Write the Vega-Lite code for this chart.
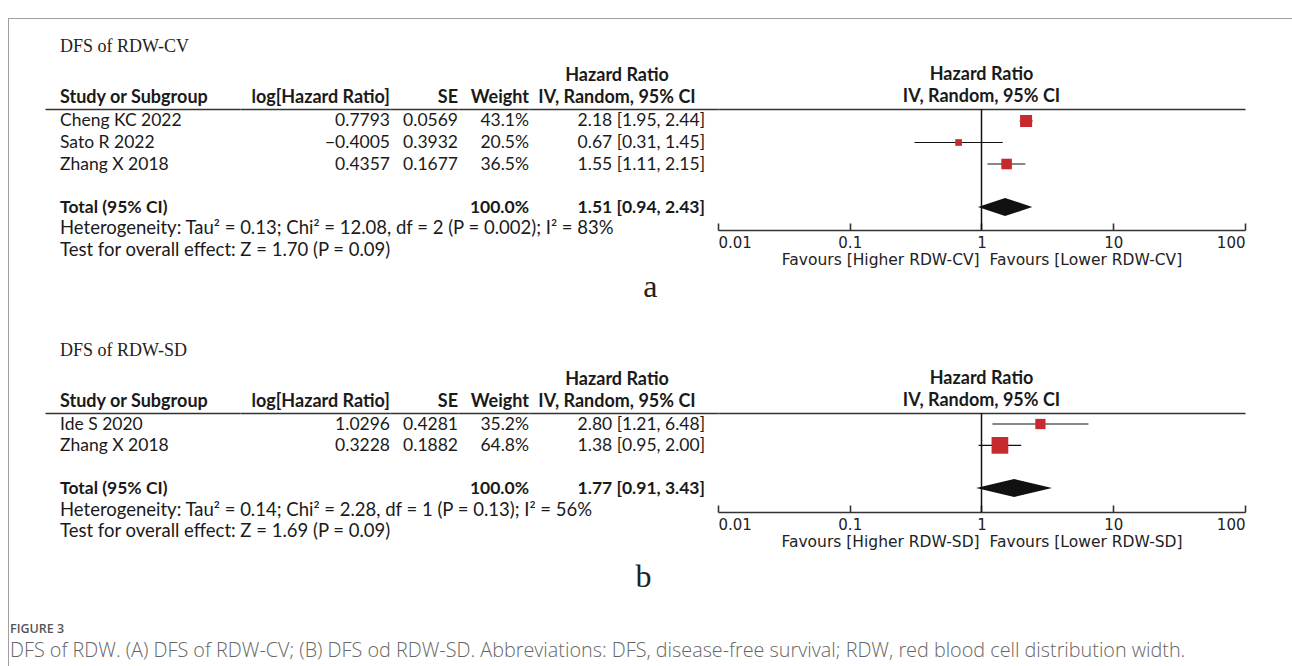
{
  "$schema": "https://vega.github.io/schema/vega-lite/v6.json",
  "padding": {"left": 8, "top": 9, "right": 0, "bottom": 0},
  "background": "white",
  "config": {
    "view": {"stroke": null},
    "text": {"font": "Lato", "fontSize": 17.5, "color": "#1a1a1a", "baseline": "middle"},
    "title": {"font": "Lato", "fontSize": 18, "fontWeight": "bold", "color": "#1a1a1a", "offset": 2, "lineHeight": 22},
    "axis": {"grid": false}
  },
  "datasets": {
    "rowsA": [
      {"label": "Cheng KC 2022", "loghr": 0.7793, "se": 0.0569, "weight": 0.431, "hr": 2.18, "lo": 1.95, "hi": 2.44},
      {"label": "Sato R 2022", "loghr": -0.4005, "se": 0.3932, "weight": 0.205, "hr": 0.67, "lo": 0.31, "hi": 1.45},
      {"label": "Zhang X 2018", "loghr": 0.4357, "se": 0.1677, "weight": 0.365, "hr": 1.55, "lo": 1.11, "hi": 2.15},
      {"label": "Total (95% CI)", "loghr": null, "se": null, "weight": 1.0, "hr": 1.51, "lo": 0.94, "hi": 2.43}
    ],
    "notesA": [
      {"label": "Heterogeneity", "text": "Heterogeneity: Tau² = 0.13; Chi² = 12.08, df = 2 (P = 0.002); I² = 83%"},
      {"label": "Overall effect", "text": "Test for overall effect: Z = 1.70 (P = 0.09)"}
    ],
    "rowsB": [
      {"label": "Ide S 2020", "loghr": 1.0296, "se": 0.4281, "weight": 0.352, "hr": 2.80, "lo": 1.21, "hi": 6.48},
      {"label": "Zhang X 2018", "loghr": 0.3228, "se": 0.1882, "weight": 0.648, "hr": 1.38, "lo": 0.95, "hi": 2.00},
      {"label": "Total (95% CI)", "loghr": null, "se": null, "weight": 1.0, "hr": 1.77, "lo": 0.91, "hi": 3.43}
    ],
    "notesB": [
      {"label": "Heterogeneity", "text": "Heterogeneity: Tau² = 0.14; Chi² = 2.28, df = 1 (P = 0.13); I² = 56%"},
      {"label": "Overall effect", "text": "Test for overall effect: Z = 1.69 (P = 0.09)"}
    ]
  },
  "spacing": 0,
  "hconcat": [
    {
      "width": 1, "height": 657,
      "view": {"fill": "#a0a0a0", "stroke": null},
      "data": {"values": [{}]},
      "mark": {"type": "text"},
      "encoding": {"text": {"value": ""}}
    },
    {
      "spacing": 11,
      "title": {
        "text": "FIGURE 3",
        "subtitle": "DFS of RDW. (A) DFS of RDW-CV; (B) DFS od RDW-SD. Abbreviations: DFS, disease-free survival; RDW, red blood cell distribution width.",
        "orient": "bottom", "anchor": "start", "dx": 1, "offset": 30,
        "font": "Open Sans", "fontSize": 12.5, "fontWeight": 600, "color": "#555555",
        "subtitleFont": "Open Sans", "subtitleFontSize": 19.8, "subtitleFontWeight": 300, "subtitleColor": "#666666", "subtitlePadding": 6
      },
      "vconcat": [
        {
          "width": 1283, "height": 1,
          "view": {"fill": "#a0a0a0", "stroke": null},
          "data": {"values": [{}]},
          "mark": {"type": "text"},
          "encoding": {"text": {"value": ""}}
        },
        {
          "spacing": 39,
          "vconcat": [
            {
              "title": {"text": "a", "orient": "bottom", "anchor": "middle", "font": "Liberation Serif", "fontSize": 32, "fontWeight": "normal", "color": "#222222", "offset": 4, "dx": 23},
              "vconcat": [
                {
                  "title": {"text": "DFS of RDW-CV", "anchor": "start", "font": "Liberation Serif", "fontSize": 18, "fontWeight": "normal", "color": "#222222", "dx": 51, "offset": 10},
                  "spacing": 0,
                  "bounds": "flush",
                  "hconcat": [
                    {"width": 36, "height": 1, "data": {"values": [{}]}, "mark": {"type": "text"}, "encoding": {"text": {"value": ""}}},
                    {
                      "width": 195, "height": 152,
                      "title": {"text": "Study or Subgroup", "anchor": "start", "dx": 15},
                      "layer": [
                        {
                          "data": {"name": "rowsA"},
                          "mark": {"type": "text", "align": "left", "dx": 15, "dy": 1.5, "fontWeight": {"expr": "datum.label === 'Total (95% CI)' ? 'bold' : 'normal'"}},
                          "encoding": {
                            "x": {"datum": 0, "type": "quantitative", "scale": {"domain": [0, 1]}, "axis": {"orient": "top", "ticks": false, "labels": false, "title": null, "domainColor": "#333333", "domainWidth": 1.6}},
                            "y": {"field": "label", "type": "nominal", "scale": {"type": "point", "padding": 0.5, "domain": ["Cheng KC 2022", "Sato R 2022", "Zhang X 2018", " ", "Total (95% CI)", "Heterogeneity", "Overall effect"]}, "axis": null},
                            "text": {"field": "label"}
                          }
                        },
                        {
                          "data": {"name": "notesA"},
                          "mark": {"type": "text", "align": "left", "dx": 15, "fontSize": 18.5},
                          "encoding": {
                            "x": {"datum": 0, "type": "quantitative", "scale": {"domain": [0, 1]}, "axis": {"orient": "top", "ticks": false, "labels": false, "title": null, "domainColor": "#333333", "domainWidth": 1.6}},
                            "y": {"field": "label", "type": "nominal", "scale": {"type": "point", "padding": 0.5, "domain": ["Cheng KC 2022", "Sato R 2022", "Zhang X 2018", " ", "Total (95% CI)", "Heterogeneity", "Overall effect"]}, "axis": null},
                            "text": {"field": "text"}
                          }
                        }
                      ]
                    },
                    {
                      "width": 150, "height": 152,
                      "title": {"text": "log[Hazard Ratio]", "anchor": "end"},
                      "data": {"name": "rowsA"},
                      "transform": [{"filter": "isValid(datum.loghr)"}],
                      "mark": {"type": "text", "align": "right", "dy": 1.5},
                      "encoding": {
                        "x": {"datum": 1, "type": "quantitative", "scale": {"domain": [0, 1]}, "axis": {"orient": "top", "ticks": false, "labels": false, "title": null, "domainColor": "#333333", "domainWidth": 1.6}},
                        "y": {"field": "label", "type": "nominal", "scale": {"type": "point", "padding": 0.5, "domain": ["Cheng KC 2022", "Sato R 2022", "Zhang X 2018", " ", "Total (95% CI)", "Heterogeneity", "Overall effect"]}, "axis": null},
                        "text": {"field": "loghr", "type": "quantitative", "format": ".4f"}
                      }
                    },
                    {
                      "width": 68, "height": 152,
                      "title": {"text": "SE", "anchor": "end"},
                      "data": {"name": "rowsA"},
                      "transform": [{"filter": "isValid(datum.se)"}],
                      "mark": {"type": "text", "align": "right", "dy": 1.5},
                      "encoding": {
                        "x": {"datum": 1, "type": "quantitative", "scale": {"domain": [0, 1]}, "axis": {"orient": "top", "ticks": false, "labels": false, "title": null, "domainColor": "#333333", "domainWidth": 1.6}},
                        "y": {"field": "label", "type": "nominal", "scale": {"type": "point", "padding": 0.5, "domain": ["Cheng KC 2022", "Sato R 2022", "Zhang X 2018", " ", "Total (95% CI)", "Heterogeneity", "Overall effect"]}, "axis": null},
                        "text": {"field": "se", "type": "quantitative", "format": ".4f"}
                      }
                    },
                    {
                      "width": 71, "height": 152,
                      "title": {"text": "Weight", "anchor": "end"},
                      "data": {"name": "rowsA"},
                      "mark": {"type": "text", "align": "right", "dy": 1.5, "fontWeight": {"expr": "datum.label === 'Total (95% CI)' ? 'bold' : 'normal'"}},
                      "encoding": {
                        "x": {"datum": 1, "type": "quantitative", "scale": {"domain": [0, 1]}, "axis": {"orient": "top", "ticks": false, "labels": false, "title": null, "domainColor": "#333333", "domainWidth": 1.6}},
                        "y": {"field": "label", "type": "nominal", "scale": {"type": "point", "padding": 0.5, "domain": ["Cheng KC 2022", "Sato R 2022", "Zhang X 2018", " ", "Total (95% CI)", "Heterogeneity", "Overall effect"]}, "axis": null},
                        "text": {"field": "weight", "type": "quantitative", "format": ".1%"}
                      }
                    },
                    {
                      "width": 189, "height": 152,
                      "title": {"text": ["Hazard Ratio", "IV, Random, 95% CI"], "anchor": "middle", "dx": -6.5},
                      "data": {"name": "rowsA"},
                      "mark": {"type": "text", "align": "right", "dx": -13, "dy": 1.5, "fontWeight": {"expr": "datum.label === 'Total (95% CI)' ? 'bold' : 'normal'"}, "text": {"expr": "format(datum.hr, '.2f') + ' [' + format(datum.lo, '.2f') + ', ' + format(datum.hi, '.2f') + ']'"}},
                      "encoding": {
                        "x": {"datum": 1, "type": "quantitative", "scale": {"domain": [0, 1]}, "axis": {"orient": "top", "ticks": false, "labels": false, "title": null, "domainColor": "#333333", "domainWidth": 1.6}},
                        "y": {"field": "label", "type": "nominal", "scale": {"type": "point", "padding": 0.5, "domain": ["Cheng KC 2022", "Sato R 2022", "Zhang X 2018", " ", "Total (95% CI)", "Heterogeneity", "Overall effect"]}, "axis": null}
                      }
                    },
                    {
                      "width": 527, "height": 121,
                      "title": {"text": ["Hazard Ratio", "IV, Random, 95% CI"], "anchor": "middle"},
                      "resolve": {"axis": {"x": "independent"}},
                      "layer": [
                        {
                          "data": {"values": [{"hr": 1}]},
                          "mark": {"type": "rule", "color": "#111111", "strokeWidth": 1.5},
                          "encoding": {
                            "x": {"field": "hr", "type": "quantitative", "scale": {"type": "log", "domain": [0.01, 100], "nice": false}, "axis": {"orient": "top", "ticks": false, "labels": false, "title": null, "domainColor": "#333333", "domainWidth": 1.6}}
                          }
                        },
                        {
                          "data": {"name": "rowsA"},
                          "transform": [{"filter": "isValid(datum.se)"}],
                          "mark": {"type": "rule", "color": "#111111", "strokeWidth": 1.2},
                          "encoding": {
                            "x": {"field": "lo", "type": "quantitative", "scale": {"type": "log", "domain": [0.01, 100], "nice": false},
                              "axis": {"orient": "bottom", "values": [0.01, 0.1, 1, 10, 100], "format": "~g", "tickSize": -7, "tickWidth": 1.6, "tickColor": "#333333", "domainColor": "#333333", "domainWidth": 1.6, "labelFont": "DejaVu Sans", "labelFontSize": 15, "labelColor": "#222222", "labelFlush": true, "labelPadding": 12, "title": "Favours [Higher RDW-CV]\u00a0\u00a0Favours [Lower RDW-CV]", "titleFont": "DejaVu Sans", "titleFontSize": 15.5, "titleFontWeight": "normal", "titleColor": "#222222", "titlePadding": 2}},
                            "x2": {"field": "hi"},
                            "y": {"field": "label", "type": "nominal", "scale": {"type": "point", "padding": 0, "domain": ["Cheng KC 2022", "Sato R 2022", "Zhang X 2018", " ", "Total (95% CI)"], "range": [12, 98]}, "axis": null}
                          }
                        },
                        {
                          "data": {"name": "rowsA"},
                          "transform": [{"filter": "isValid(datum.se)"}],
                          "mark": {"type": "point", "shape": "square", "filled": true, "color": "#c62a2f", "opacity": 1},
                          "encoding": {
                            "x": {"field": "hr", "type": "quantitative", "scale": {"type": "log", "domain": [0.01, 100], "nice": false}, "axis": null},
                            "y": {"field": "label", "type": "nominal", "scale": {"type": "point", "padding": 0, "domain": ["Cheng KC 2022", "Sato R 2022", "Zhang X 2018", " ", "Total (95% CI)"], "range": [12, 98]}, "axis": null},
                            "size": {"field": "weight", "type": "quantitative", "scale": {"type": "pow", "exponent": 1.6, "domain": [0, 1], "range": [0, 559]}, "legend": null}
                          }
                        },
                        {
                          "data": {"name": "rowsA"},
                          "transform": [{"filter": "datum.label === 'Total (95% CI)'"}, {"fold": ["lo", "hr", "hi"], "as": ["part", "value"]}],
                          "mark": {"type": "area", "orient": "vertical", "color": "#111111", "yOffset": {"expr": "datum.part === 'hr' ? -9 : 0"}, "y2Offset": {"expr": "datum.part === 'hr' ? 9 : 0"}},
                          "encoding": {
                            "x": {"field": "value", "type": "quantitative", "stack": null, "scale": {"type": "log", "domain": [0.01, 100], "nice": false}, "axis": null},
                            "y": {"field": "label", "type": "nominal", "scale": {"type": "point", "padding": 0, "domain": ["Cheng KC 2022", "Sato R 2022", "Zhang X 2018", " ", "Total (95% CI)"], "range": [12, 98]}, "axis": null},
                            "y2": {"field": "label"}
                          }
                        }
                      ]
                    }
                  ]
                }
              ]
            },
            {
              "title": {"text": "b", "orient": "bottom", "anchor": "middle", "font": "Liberation Serif", "fontSize": 32, "fontWeight": "normal", "color": "#222222", "offset": 12, "dx": 16},
              "vconcat": [
                {
                  "title": {"text": "DFS of RDW-SD", "anchor": "start", "font": "Liberation Serif", "fontSize": 18, "fontWeight": "normal", "color": "#222222", "dx": 51, "offset": 10},
                  "spacing": 0,
                  "bounds": "flush",
                  "hconcat": [
                    {"width": 36, "height": 1, "data": {"values": [{}]}, "mark": {"type": "text"}, "encoding": {"text": {"value": ""}}},
                    {
                      "width": 195, "height": 129,
                      "title": {"text": "Study or Subgroup", "anchor": "start", "dx": 15},
                      "layer": [
                        {
                          "data": {"name": "rowsB"},
                          "mark": {"type": "text", "align": "left", "dx": 15, "dy": 1, "fontWeight": {"expr": "datum.label === 'Total (95% CI)' ? 'bold' : 'normal'"}},
                          "encoding": {
                            "x": {"datum": 0, "type": "quantitative", "scale": {"domain": [0, 1]}, "axis": {"orient": "top", "ticks": false, "labels": false, "title": null, "domainColor": "#333333", "domainWidth": 1.6}},
                            "y": {"field": "label", "type": "nominal", "scale": {"type": "point", "padding": 0.5, "domain": ["Ide S 2020", "Zhang X 2018", " ", "Total (95% CI)", "Heterogeneity", "Overall effect"]}, "axis": null},
                            "text": {"field": "label"}
                          }
                        },
                        {
                          "data": {"name": "notesB"},
                          "mark": {"type": "text", "align": "left", "dx": 15, "fontSize": 18.5},
                          "encoding": {
                            "x": {"datum": 0, "type": "quantitative", "scale": {"domain": [0, 1]}, "axis": {"orient": "top", "ticks": false, "labels": false, "title": null, "domainColor": "#333333", "domainWidth": 1.6}},
                            "y": {"field": "label", "type": "nominal", "scale": {"type": "point", "padding": 0.5, "domain": ["Ide S 2020", "Zhang X 2018", " ", "Total (95% CI)", "Heterogeneity", "Overall effect"]}, "axis": null},
                            "text": {"field": "text"}
                          }
                        }
                      ]
                    },
                    {
                      "width": 150, "height": 129,
                      "title": {"text": "log[Hazard Ratio]", "anchor": "end"},
                      "data": {"name": "rowsB"},
                      "transform": [{"filter": "isValid(datum.loghr)"}],
                      "mark": {"type": "text", "align": "right", "dy": 1},
                      "encoding": {
                        "x": {"datum": 1, "type": "quantitative", "scale": {"domain": [0, 1]}, "axis": {"orient": "top", "ticks": false, "labels": false, "title": null, "domainColor": "#333333", "domainWidth": 1.6}},
                        "y": {"field": "label", "type": "nominal", "scale": {"type": "point", "padding": 0.5, "domain": ["Ide S 2020", "Zhang X 2018", " ", "Total (95% CI)", "Heterogeneity", "Overall effect"]}, "axis": null},
                        "text": {"field": "loghr", "type": "quantitative", "format": ".4f"}
                      }
                    },
                    {
                      "width": 68, "height": 129,
                      "title": {"text": "SE", "anchor": "end"},
                      "data": {"name": "rowsB"},
                      "transform": [{"filter": "isValid(datum.se)"}],
                      "mark": {"type": "text", "align": "right", "dy": 1},
                      "encoding": {
                        "x": {"datum": 1, "type": "quantitative", "scale": {"domain": [0, 1]}, "axis": {"orient": "top", "ticks": false, "labels": false, "title": null, "domainColor": "#333333", "domainWidth": 1.6}},
                        "y": {"field": "label", "type": "nominal", "scale": {"type": "point", "padding": 0.5, "domain": ["Ide S 2020", "Zhang X 2018", " ", "Total (95% CI)", "Heterogeneity", "Overall effect"]}, "axis": null},
                        "text": {"field": "se", "type": "quantitative", "format": ".4f"}
                      }
                    },
                    {
                      "width": 71, "height": 129,
                      "title": {"text": "Weight", "anchor": "end"},
                      "data": {"name": "rowsB"},
                      "mark": {"type": "text", "align": "right", "dy": 1, "fontWeight": {"expr": "datum.label === 'Total (95% CI)' ? 'bold' : 'normal'"}},
                      "encoding": {
                        "x": {"datum": 1, "type": "quantitative", "scale": {"domain": [0, 1]}, "axis": {"orient": "top", "ticks": false, "labels": false, "title": null, "domainColor": "#333333", "domainWidth": 1.6}},
                        "y": {"field": "label", "type": "nominal", "scale": {"type": "point", "padding": 0.5, "domain": ["Ide S 2020", "Zhang X 2018", " ", "Total (95% CI)", "Heterogeneity", "Overall effect"]}, "axis": null},
                        "text": {"field": "weight", "type": "quantitative", "format": ".1%"}
                      }
                    },
                    {
                      "width": 189, "height": 129,
                      "title": {"text": ["Hazard Ratio", "IV, Random, 95% CI"], "anchor": "middle", "dx": -6.5},
                      "data": {"name": "rowsB"},
                      "mark": {"type": "text", "align": "right", "dx": -13, "dy": 1, "fontWeight": {"expr": "datum.label === 'Total (95% CI)' ? 'bold' : 'normal'"}, "text": {"expr": "format(datum.hr, '.2f') + ' [' + format(datum.lo, '.2f') + ', ' + format(datum.hi, '.2f') + ']'"}},
                      "encoding": {
                        "x": {"datum": 1, "type": "quantitative", "scale": {"domain": [0, 1]}, "axis": {"orient": "top", "ticks": false, "labels": false, "title": null, "domainColor": "#333333", "domainWidth": 1.6}},
                        "y": {"field": "label", "type": "nominal", "scale": {"type": "point", "padding": 0.5, "domain": ["Ide S 2020", "Zhang X 2018", " ", "Total (95% CI)", "Heterogeneity", "Overall effect"]}, "axis": null}
                      }
                    },
                    {
                      "width": 527, "height": 99,
                      "title": {"text": ["Hazard Ratio", "IV, Random, 95% CI"], "anchor": "middle"},
                      "resolve": {"axis": {"x": "independent"}},
                      "layer": [
                        {
                          "data": {"values": [{"hr": 1}]},
                          "mark": {"type": "rule", "color": "#111111", "strokeWidth": 1.5},
                          "encoding": {
                            "x": {"field": "hr", "type": "quantitative", "scale": {"type": "log", "domain": [0.01, 100], "nice": false}, "axis": {"orient": "top", "ticks": false, "labels": false, "title": null, "domainColor": "#333333", "domainWidth": 1.6}}
                          }
                        },
                        {
                          "data": {"name": "rowsB"},
                          "transform": [{"filter": "isValid(datum.se)"}],
                          "mark": {"type": "rule", "color": "#111111", "strokeWidth": 1.2},
                          "encoding": {
                            "x": {"field": "lo", "type": "quantitative", "scale": {"type": "log", "domain": [0.01, 100], "nice": false},
                              "axis": {"orient": "bottom", "values": [0.01, 0.1, 1, 10, 100], "format": "~g", "tickSize": -7, "tickWidth": 1.6, "tickColor": "#333333", "domainColor": "#333333", "domainWidth": 1.6, "labelFont": "DejaVu Sans", "labelFontSize": 15, "labelColor": "#222222", "labelFlush": true, "labelPadding": 12, "title": "Favours [Higher RDW-SD]\u00a0\u00a0Favours [Lower RDW-SD]", "titleFont": "DejaVu Sans", "titleFontSize": 15.5, "titleFontWeight": "normal", "titleColor": "#222222", "titlePadding": 2}},
                            "x2": {"field": "hi"},
                            "y": {"field": "label", "type": "nominal", "scale": {"type": "point", "padding": 0, "domain": ["Ide S 2020", "Zhang X 2018", " ", "Total (95% CI)"], "range": [11, 75]}, "axis": null}
                          }
                        },
                        {
                          "data": {"name": "rowsB"},
                          "transform": [{"filter": "isValid(datum.se)"}],
                          "mark": {"type": "point", "shape": "square", "filled": true, "color": "#c62a2f", "opacity": 1},
                          "encoding": {
                            "x": {"field": "hr", "type": "quantitative", "scale": {"type": "log", "domain": [0.01, 100], "nice": false}, "axis": null},
                            "y": {"field": "label", "type": "nominal", "scale": {"type": "point", "padding": 0, "domain": ["Ide S 2020", "Zhang X 2018", " ", "Total (95% CI)"], "range": [11, 75]}, "axis": null},
                            "size": {"field": "weight", "type": "quantitative", "scale": {"type": "pow", "exponent": 1.6, "domain": [0, 1], "range": [0, 559]}, "legend": null}
                          }
                        },
                        {
                          "data": {"name": "rowsB"},
                          "transform": [{"filter": "datum.label === 'Total (95% CI)'"}, {"fold": ["lo", "hr", "hi"], "as": ["part", "value"]}],
                          "mark": {"type": "area", "orient": "vertical", "color": "#111111", "yOffset": {"expr": "datum.part === 'hr' ? -9 : 0"}, "y2Offset": {"expr": "datum.part === 'hr' ? 9 : 0"}},
                          "encoding": {
                            "x": {"field": "value", "type": "quantitative", "stack": null, "scale": {"type": "log", "domain": [0.01, 100], "nice": false}, "axis": null},
                            "y": {"field": "label", "type": "nominal", "scale": {"type": "point", "padding": 0, "domain": ["Ide S 2020", "Zhang X 2018", " ", "Total (95% CI)"], "range": [11, 75]}, "axis": null},
                            "y2": {"field": "label"}
                          }
                        }
                      ]
                    }
                  ]
                }
              ]
            }
          ]
        }
      ]
    }
  ]
}
